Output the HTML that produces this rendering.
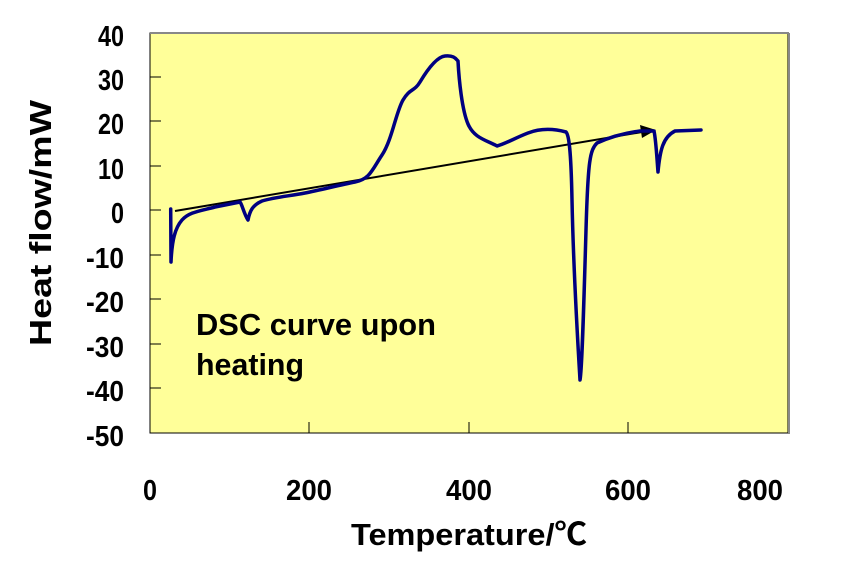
<!DOCTYPE html>
<html><head><meta charset="utf-8"><style>
body{margin:0;background:#fff;}
svg text{font-family:"Liberation Sans","Noto Sans CJK JP",sans-serif;font-weight:bold;}
</style></head><body>
<svg width="852" height="570" viewBox="0 0 852 570" xmlns="http://www.w3.org/2000/svg">
<rect x="150" y="33" width="638" height="400" fill="#ffff99" stroke="#000" stroke-width="1"/>
<line x1="150" y1="33" x2="789" y2="33" stroke="#888" stroke-width="2"/>
<line x1="789" y1="33" x2="789" y2="434" stroke="#888" stroke-width="2"/>
<g stroke="#000" stroke-width="1">
<line x1="150" y1="77" x2="161" y2="77"/><line x1="150" y1="121" x2="161" y2="121"/>
<line x1="150" y1="166" x2="161" y2="166"/><line x1="150" y1="210" x2="161" y2="210"/>
<line x1="150" y1="255" x2="161" y2="255"/><line x1="150" y1="299" x2="161" y2="299"/>
<line x1="150" y1="344" x2="161" y2="344"/><line x1="150" y1="388" x2="161" y2="388"/>
<line x1="309" y1="433" x2="309" y2="422"/><line x1="469" y1="433" x2="469" y2="422"/>
<line x1="628" y1="433" x2="628" y2="422"/>
</g>
<g font-size="29" text-anchor="end">
<text x="124" y="46" textLength="26" lengthAdjust="spacingAndGlyphs">40</text>
<text x="124" y="90" textLength="26" lengthAdjust="spacingAndGlyphs">30</text>
<text x="124" y="134" textLength="26" lengthAdjust="spacingAndGlyphs">20</text>
<text x="124" y="179" textLength="26" lengthAdjust="spacingAndGlyphs">10</text>
<text x="124" y="223" textLength="13" lengthAdjust="spacingAndGlyphs">0</text>
<text x="124" y="268" textLength="38" lengthAdjust="spacingAndGlyphs">-10</text>
<text x="124" y="312" textLength="38" lengthAdjust="spacingAndGlyphs">-20</text>
<text x="124" y="357" textLength="38" lengthAdjust="spacingAndGlyphs">-30</text>
<text x="124" y="401" textLength="38" lengthAdjust="spacingAndGlyphs">-40</text>
<text x="124" y="446" textLength="38" lengthAdjust="spacingAndGlyphs">-50</text>
</g>
<g font-size="29" text-anchor="middle">
<text x="150" y="500" textLength="14" lengthAdjust="spacingAndGlyphs">0</text>
<text x="309" y="500" textLength="46" lengthAdjust="spacingAndGlyphs">200</text>
<text x="469" y="500" textLength="46" lengthAdjust="spacingAndGlyphs">400</text>
<text x="628" y="500" textLength="46" lengthAdjust="spacingAndGlyphs">600</text>
<text x="760" y="500" textLength="46" lengthAdjust="spacingAndGlyphs">800</text>
</g>
<text x="351" y="545" font-size="31" textLength="236" lengthAdjust="spacingAndGlyphs">Temperature/℃</text>
<text transform="translate(51,346) rotate(-90)" font-size="31" textLength="246" lengthAdjust="spacingAndGlyphs">Heat flow/mW</text>
<text x="196" y="335" font-size="31" textLength="240" lengthAdjust="spacingAndGlyphs">DSC curve upon</text>
<text x="196" y="375" font-size="31" textLength="108" lengthAdjust="spacingAndGlyphs">heating</text>
<line x1="175" y1="211" x2="642" y2="132" stroke="#000" stroke-width="2"/>
<polygon points="656,130 640,125 642,138" fill="#000"/>
<path fill="none" stroke="#000080" stroke-width="3.5" stroke-linejoin="round" stroke-linecap="round" d="
M170.7,209 L171,262 C172,240 175,228 182,220 S200,211 215,207 L240,202 C242,204 244,214 248,220 C250,210 253,205 262,201 C275,197 290,196 305,193 S340,185 355,182 S372,170 382,155 S396,112 403,100 S414,92 420,82 S436,57 445,56 S456,59 458,61 C459,80 462,110 468,124 S486,140 497,146 C505,144 515,138 528,133 S555,129 566,132 C569,135 571,150 572,200 S577,330 580,380 C582,370 584,300 586,230 S590,150 597,143 C610,137 625,133 640,131 L654,131 C656,140 657,160 658,172 C660,150 663,137 675,131 L701,130"/>
</svg>
</body></html>
